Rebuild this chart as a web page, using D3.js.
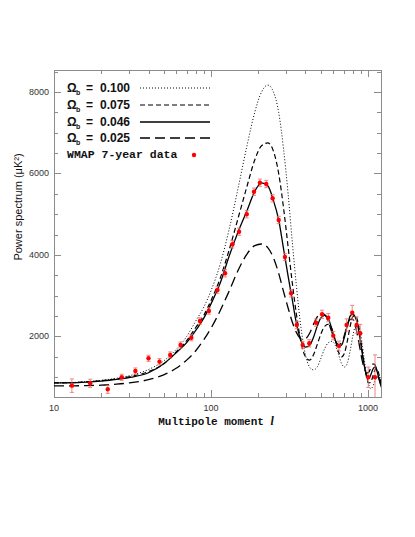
<!DOCTYPE html>
<html>
<head>
<meta charset="utf-8">
<script src="https://cdn.jsdelivr.net/npm/d3@7"></script>
<style>
  body { margin: 0; background: #fff; }
  svg { display: block; }
</style>
</head>
<body>
<div id="vis"></div>
<script>
// multipole grid for the model curves
const ells = [10, 13, 16, 20, 25, 30, 40, 50, 60, 70, 80, 90, 100, 115, 130, 150, 170, 190, 210, 230,
  250, 270, 290, 310, 330, 350, 375, 400, 425, 450, 475, 500, 530, 560, 590, 620, 650, 680, 710, 740,
  770, 800, 830, 860, 890, 920, 950, 980, 1010, 1040, 1070, 1100, 1130, 1160, 1190, 1220];

const omega100 = [860, 870, 890, 925, 975, 1035, 1190, 1400, 1680, 2000, 2380, 2720, 3120, 3800, 4600, 5700, 6700, 7500, 8000, 8170,
  8000, 7500, 6600, 5500, 4300, 3250, 2200, 1550, 1250, 1180, 1250, 1450, 1700, 1850, 1880, 1780, 1550, 1330, 1250, 1350,
  1650, 2000, 2250, 2300, 2150, 1800, 1400, 1050, 820, 720, 760, 880, 1000, 1030, 950, 820];

const omega075 = [860, 868, 885, 915, 960, 1010, 1140, 1330, 1620, 1900, 2220, 2520, 2880, 3450, 4100, 4950, 5700, 6330, 6680, 6750,
  6550, 6000, 5150, 4200, 3300, 2550, 1850, 1500, 1420, 1550, 1800, 2050, 2250, 2300, 2180, 1900, 1620, 1500, 1600, 1900,
  2250, 2480, 2520, 2380, 2050, 1650, 1280, 1000, 860, 870, 1000, 1150, 1220, 1150, 980, 800];

const omega046 = [860, 865, 880, 905, 945, 990, 1110, 1330, 1600, 1850, 2150, 2450, 2800, 3330, 3950, 4600, 5100, 5560, 5770, 5700,
  5340, 4860, 4150, 3480, 2890, 2330, 1900, 1740, 1780, 1980, 2250, 2450, 2520, 2430, 2180, 1900, 1760, 1790, 2000, 2280,
  2500, 2550, 2480, 2280, 1950, 1580, 1260, 1050, 970, 1050, 1180, 1250, 1200, 1050, 880, 750];

const omega025 = [790, 790, 795, 805, 830, 860, 940, 1060, 1220, 1420, 1650, 1920, 2200, 2650, 3100, 3650, 4030, 4230, 4270, 4180,
  3930, 3550, 3100, 2700, 2350, 2100, 1950, 1950, 2080, 2300, 2480, 2570, 2540, 2350, 2100, 1900, 1800, 1850, 2050, 2280,
  2420, 2420, 2280, 2000, 1700, 1400, 1200, 1100, 1120, 1220, 1320, 1320, 1220, 1050, 900, 780];

// WMAP 7-year binned points
const dataEll = [13, 17, 22, 27, 33, 40, 47, 55, 64, 75, 85, 97, 110, 123, 137, 151, 169, 188, 205, 225,
  247, 270, 296, 324, 352, 384, 423, 467, 510, 559, 601, 654, 731, 794, 847, 893, 1004, 1109];
const dataPower = [793, 851, 704, 999, 1153, 1465, 1382, 1546, 1791, 1970, 2380, 2626, 3141, 3551, 4263, 4572, 4999, 5553, 5774, 5742,
  5391, 4859, 3950, 3060, 2282, 1791, 1833, 2339, 2545, 2462, 2020, 1767, 2282, 2584, 2282, 2078, 999, 999];
const dataErr = [165, 100, 100, 75, 75, 75, 75, 75, 75, 75, 80, 80, 80, 90, 90, 90, 90, 90, 90, 90,
  90, 90, 90, 90, 90, 90, 90, 90, 100, 100, 100, 120, 150, 180, 200, 220, 250, 550];

const legendLabels = ["0.100", "0.075", "0.046", "0.025"];
const yTickValues = [2000, 4000, 6000, 8000];
const xTickValues = [10, 100, 1000];

function createVis() {
  const width = 415;
  const height = 537;
  const left = 54, right = 381, top = 70, bottom = 397;

  const x = d3.scaleLog().domain([10, 1211]).range([left, right]);
  const y = d3.scaleLinear().domain([515, 8540]).range([bottom, top]);

  const svg = d3.select("#vis")
    .append("svg")
    .attr("width", width)
    .attr("height", height)
    .attr("viewBox", [0, 0, width, height]);

  svg.append("defs").append("clipPath")
    .attr("id", "plot-clip")
    .append("rect")
    .attr("x", left).attr("y", top)
    .attr("width", right - left).attr("height", bottom - top);

  const frameColor = "#8c8c8c";

  // ticks, pointing inward on all four sides
  const ticks = svg.append("g").attr("stroke", frameColor).attr("stroke-width", 1);
  const xMinor = [];
  for (let d = 10; d <= 1000; d *= 10) {
    for (let k = 1; k < 10; k++) {
      const v = d * k;
      if (v <= 1211) xMinor.push(v);
    }
  }
  xMinor.forEach(v => {
    const len = xTickValues.includes(v) ? 7 : 4;
    const px = Math.round(x(v)) + 0.5;
    ticks.append("line").attr("x1", px).attr("x2", px).attr("y1", bottom).attr("y2", bottom - len);
    ticks.append("line").attr("x1", px).attr("x2", px).attr("y1", top).attr("y2", top + len);
  });
  d3.range(1000, 8600, 500).forEach(v => {
    const len = v % 2000 === 0 ? 7 : 4;
    const py = Math.round(y(v)) + 0.5;
    ticks.append("line").attr("x1", left).attr("x2", left + len).attr("y1", py).attr("y2", py);
    ticks.append("line").attr("x1", right).attr("x2", right - len).attr("y1", py).attr("y2", py);
  });

  svg.append("rect")
    .attr("x", left + 0.5).attr("y", top + 0.5)
    .attr("width", right - left).attr("height", bottom - top)
    .attr("fill", "none")
    .attr("stroke", frameColor)
    .attr("stroke-width", 1);

  // tick labels
  svg.append("g")
    .selectAll("text")
    .data(yTickValues)
    .join("text")
    .attr("x", left - 5)
    .attr("y", d => y(d) + 3)
    .attr("text-anchor", "end")
    .attr("font-family", "Liberation Sans, Arial, sans-serif")
    .attr("font-size", 9)
    .attr("fill", "#333")
    .text(d => d);

  svg.append("g")
    .selectAll("text")
    .data(xTickValues)
    .join("text")
    .attr("x", d => x(d))
    .attr("y", bottom + 14)
    .attr("text-anchor", "middle")
    .attr("font-family", "Liberation Sans, Arial, sans-serif")
    .attr("font-size", 9)
    .attr("fill", "#333")
    .text(d => d);

  // axis titles
  const xTitle = svg.append("text")
    .attr("x", 216)
    .attr("y", bottom + 28)
    .attr("text-anchor", "middle")
    .attr("font-family", "Liberation Mono, Courier New, monospace")
    .attr("font-weight", "bold")
    .attr("font-size", 11)
    .attr("fill", "#111");
  xTitle.append("tspan").text("Multipole moment ");
  xTitle.append("tspan").attr("font-style", "italic").attr("font-family", "Liberation Serif, serif").attr("font-size", 12).text("l");

  svg.append("text")
    .attr("transform", "translate(22,207) rotate(-90)")
    .attr("text-anchor", "middle")
    .attr("font-family", "Liberation Sans, Arial, sans-serif")
    .attr("font-size", 11)
    .attr("fill", "#111")
    .text("Power spectrum (\u03BCK\u00B2)");

  // model curves
  const series = [
    { values: omega100, dash: "1,2", width: 1 },
    { values: omega075, dash: "5,3", width: 1.2 },
    { values: omega046, dash: null, width: 1.3 },
    { values: omega025, dash: "10,5", width: 1.3 }
  ];

  const line = d3.line()
    .x(d => x(d[0]))
    .y(d => y(d[1]))
    .curve(d3.curveMonotoneX);

  const curves = svg.append("g").attr("clip-path", "url(#plot-clip)");
  series.forEach(s => {
    curves.append("path")
      .datum(ells.map((l, i) => [l, s.values[i]]))
      .attr("fill", "none")
      .attr("stroke", "#000")
      .attr("stroke-width", s.width)
      .attr("stroke-dasharray", s.dash)
      .attr("d", line);
  });

  // data with error bars
  const points = dataEll.map((l, i) => ({ l: l, v: dataPower[i], e: dataErr[i] }));
  const err = svg.append("g")
    .attr("clip-path", "url(#plot-clip)")
    .attr("stroke", "#f07070")
    .attr("stroke-width", 1)
    .attr("opacity", 0.85);
  points.forEach(p => {
    const px = x(p.l);
    err.append("line").attr("x1", px).attr("x2", px).attr("y1", y(p.v - p.e)).attr("y2", y(p.v + p.e));
    err.append("line").attr("x1", px - 2).attr("x2", px + 2).attr("y1", y(p.v - p.e)).attr("y2", y(p.v - p.e));
    err.append("line").attr("x1", px - 2).attr("x2", px + 2).attr("y1", y(p.v + p.e)).attr("y2", y(p.v + p.e));
  });
  svg.append("g")
    .selectAll("circle")
    .data(points)
    .join("circle")
    .attr("cx", d => x(d.l))
    .attr("cy", d => y(d.v))
    .attr("r", 2.2)
    .attr("fill", "#ff0000");

  // legend
  const legend = svg.append("g")
    .attr("font-family", "Liberation Sans, Arial, sans-serif")
    .attr("font-weight", "bold")
    .attr("fill", "#111");
  const rowY = [88, 105, 122, 138];
  legendLabels.forEach((lab, i) => {
    const by = rowY[i] + 4;
    legend.append("text").attr("x", 67).attr("y", by).attr("font-size", 12).text("\u03A9");
    legend.append("text").attr("x", 76).attr("y", by + 2.5).attr("font-size", 7).text("b");
    legend.append("text").attr("x", 86).attr("y", by).attr("font-size", 12).text("=");
    legend.append("text").attr("x", 100).attr("y", by).attr("font-size", 12).text(lab);
    legend.append("line")
      .attr("x1", 140).attr("x2", 210)
      .attr("y1", rowY[i]).attr("y2", rowY[i])
      .attr("stroke", "#000")
      .attr("stroke-width", series[i].width)
      .attr("stroke-dasharray", series[i].dash);
  });
  legend.append("text")
    .attr("x", 67)
    .attr("y", 158)
    .attr("font-family", "Liberation Mono, Courier New, monospace")
    .attr("font-size", 11.5)
    .text("WMAP 7-year data");
  legend.append("circle")
    .attr("cx", 194).attr("cy", 155)
    .attr("r", 2.2)
    .attr("fill", "#ff0000");
}

window.addEventListener("load", createVis);
</script>
</body>
</html>
